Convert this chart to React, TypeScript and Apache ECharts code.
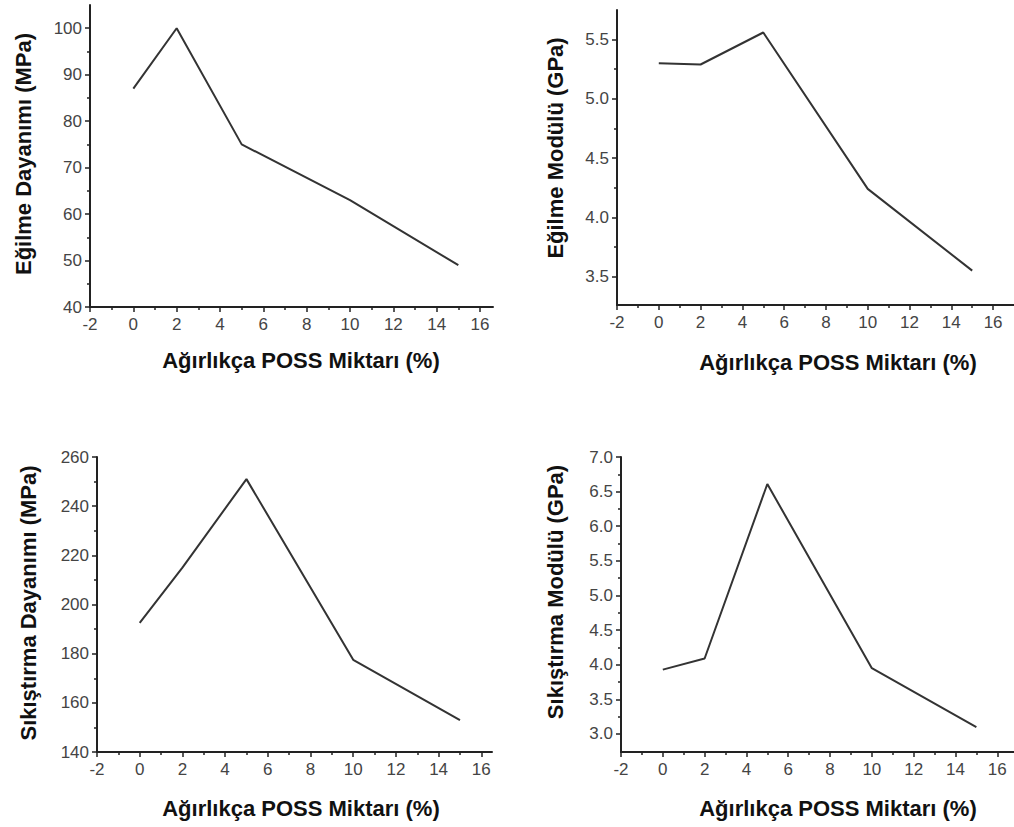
import React, { useEffect, useRef } from "react";
import * as echarts from "echarts";

const poss = [0, 2, 5, 10, 15];
const flexStrength = [87, 100, 75, 63, 49];
const flexModulus = [5.3, 5.29, 5.56, 4.24, 3.55];
const compStrength = [192.5, 215, 251, 177.5, 153];
const compModulus = [3.93, 4.09, 6.61, 3.95, 3.1];

const xMajor = [-2, 0, 2, 4, 6, 8, 10, 12, 14, 16];
const xMinor = [-1, 1, 3, 5, 7, 9, 11, 13, 15];

const y1Major = [40, 50, 60, 70, 80, 90, 100];
const y1Minor = [45, 55, 65, 75, 85, 95];
const y2Major = [3.5, 4.0, 4.5, 5.0, 5.5];
const y2Minor = [3.75, 4.25, 4.75, 5.25];
const y3Major = [140, 160, 180, 200, 220, 240, 260];
const y3Minor = [150, 170, 190, 210, 230, 250];
const y4Major = [3.0, 3.5, 4.0, 4.5, 5.0, 5.5, 6.0, 6.5, 7.0];
const y4Minor = [3.25, 3.75, 4.25, 4.75, 5.25, 5.75, 6.25, 6.75];

const xTitle = "Ağırlıkça POSS Miktarı (%)";
const yTitles = [
  "Eğilme Dayanımı (MPa)",
  "Eğilme Modülü (GPa)",
  "Sıkıştırma Dayanımı (MPa)",
  "Sıkıştırma Modülü (GPa)",
];

const FONT = "'Liberation Sans', Arial, sans-serif";
const AXIS_COLOR = "#222";

export default function App() {
  const ref = useRef<HTMLDivElement>(null);

  useEffect(() => {
    if (!ref.current) return;
    const chart = echarts.init(ref.current, undefined, { renderer: "svg" });

    const panels = [
      { grid: { left: 90, top: 5, width: 403, height: 302 }, xMax: 16.6, yMin: 40, yMax: 105, yMajor: y1Major, yMinor: y1Minor, data: flexStrength, dec: 0 },
      { grid: { left: 617, top: 10, width: 397, height: 295 }, xMax: 17, yMin: 3.26, yMax: 5.75, yMajor: y2Major, yMinor: y2Minor, data: flexModulus, dec: 1 },
      { grid: { left: 97, top: 457, width: 395, height: 295 }, xMax: 16.5, yMin: 140, yMax: 260, yMajor: y3Major, yMinor: y3Minor, data: compStrength, dec: 0 },
      { grid: { left: 621, top: 457, width: 393, height: 295 }, xMax: 16.8, yMin: 2.74, yMax: 7.0, yMajor: y4Major, yMinor: y4Minor, data: compModulus, dec: 1 },
    ];

    const grids: any[] = [];
    const xAxes: any[] = [];
    const yAxes: any[] = [];
    const series: any[] = [];

    panels.forEach((p, i) => {
      grids.push({ ...p.grid, containLabel: false });
      xAxes.push({
        type: "value",
        gridIndex: i,
        min: -2,
        max: p.xMax,
        position: "bottom",
        axisLine: { show: true, onZero: false, lineStyle: { color: AXIS_COLOR, width: 2 } },
        axisTick: { show: true, customValues: xMajor, length: 5, lineStyle: { color: AXIS_COLOR, width: 1.5 } },
        axisLabel: { show: true, customValues: xMajor, color: "#444", fontSize: 17, fontFamily: FONT, margin: 9 },
        splitLine: { show: false },
      });
      xAxes.push({
        type: "value",
        gridIndex: i,
        min: -2,
        max: p.xMax,
        position: "bottom",
        offset: 0,
        axisLine: { show: false, onZero: false },
        axisTick: { show: true, customValues: xMinor, length: 3, lineStyle: { color: AXIS_COLOR, width: 1.5 } },
        axisLabel: { show: false },
        splitLine: { show: false },
      });
      yAxes.push({
        type: "value",
        gridIndex: i,
        min: p.yMin,
        max: p.yMax,
        position: "left",
        axisLine: { show: true, onZero: false, lineStyle: { color: AXIS_COLOR, width: 2 } },
        axisTick: { show: true, customValues: p.yMajor, length: 5, lineStyle: { color: AXIS_COLOR, width: 1.5 } },
        axisLabel: {
          show: true,
          customValues: p.yMajor,
          color: "#444",
          fontSize: 17,
          fontFamily: FONT,
          margin: 8,
          formatter: (v: number) => v.toFixed(p.dec),
        },
        splitLine: { show: false },
      });
      yAxes.push({
        type: "value",
        gridIndex: i,
        min: p.yMin,
        max: p.yMax,
        position: "left",
        offset: 0,
        axisLine: { show: false, onZero: false },
        axisTick: { show: true, customValues: p.yMinor, length: 3, lineStyle: { color: AXIS_COLOR, width: 1.5 } },
        axisLabel: { show: false },
        splitLine: { show: false },
      });
      series.push({
        type: "line",
        xAxisIndex: i * 2,
        yAxisIndex: i * 2,
        data: poss.map((x, k) => [x, p.data[k]]),
        showSymbol: false,
        symbol: "none",
        lineStyle: { color: "#333", width: 2 },
      });
    });

    const titleStyle = { font: `bold 22px ${FONT}`, fill: "#111", align: "center", verticalAlign: "middle" };
    const graphic: any[] = [
      { type: "text", x: 301, y: 360, style: { ...titleStyle, text: xTitle } },
      { type: "text", x: 838, y: 362, style: { ...titleStyle, text: xTitle } },
      { type: "text", x: 301, y: 808, style: { ...titleStyle, text: xTitle } },
      { type: "text", x: 838, y: 808, style: { ...titleStyle, text: xTitle } },
      { type: "text", x: 23, y: 154, rotation: Math.PI / 2, style: { ...titleStyle, text: yTitles[0] } },
      { type: "text", x: 555, y: 148, rotation: Math.PI / 2, style: { ...titleStyle, text: yTitles[1] } },
      { type: "text", x: 28, y: 603, rotation: Math.PI / 2, style: { ...titleStyle, text: yTitles[2] } },
      { type: "text", x: 555, y: 592, rotation: Math.PI / 2, style: { ...titleStyle, text: yTitles[3] } },
    ];

    chart.setOption({
      animation: false,
      backgroundColor: "#fff",
      grid: grids,
      xAxis: xAxes,
      yAxis: yAxes,
      series,
      graphic,
    });

    return () => chart.dispose();
  }, []);

  return (
    <div
      ref={ref}
      style={{ position: "absolute", left: 0, top: 0, width: 1014, height: 827 }}
    />
  );
}
